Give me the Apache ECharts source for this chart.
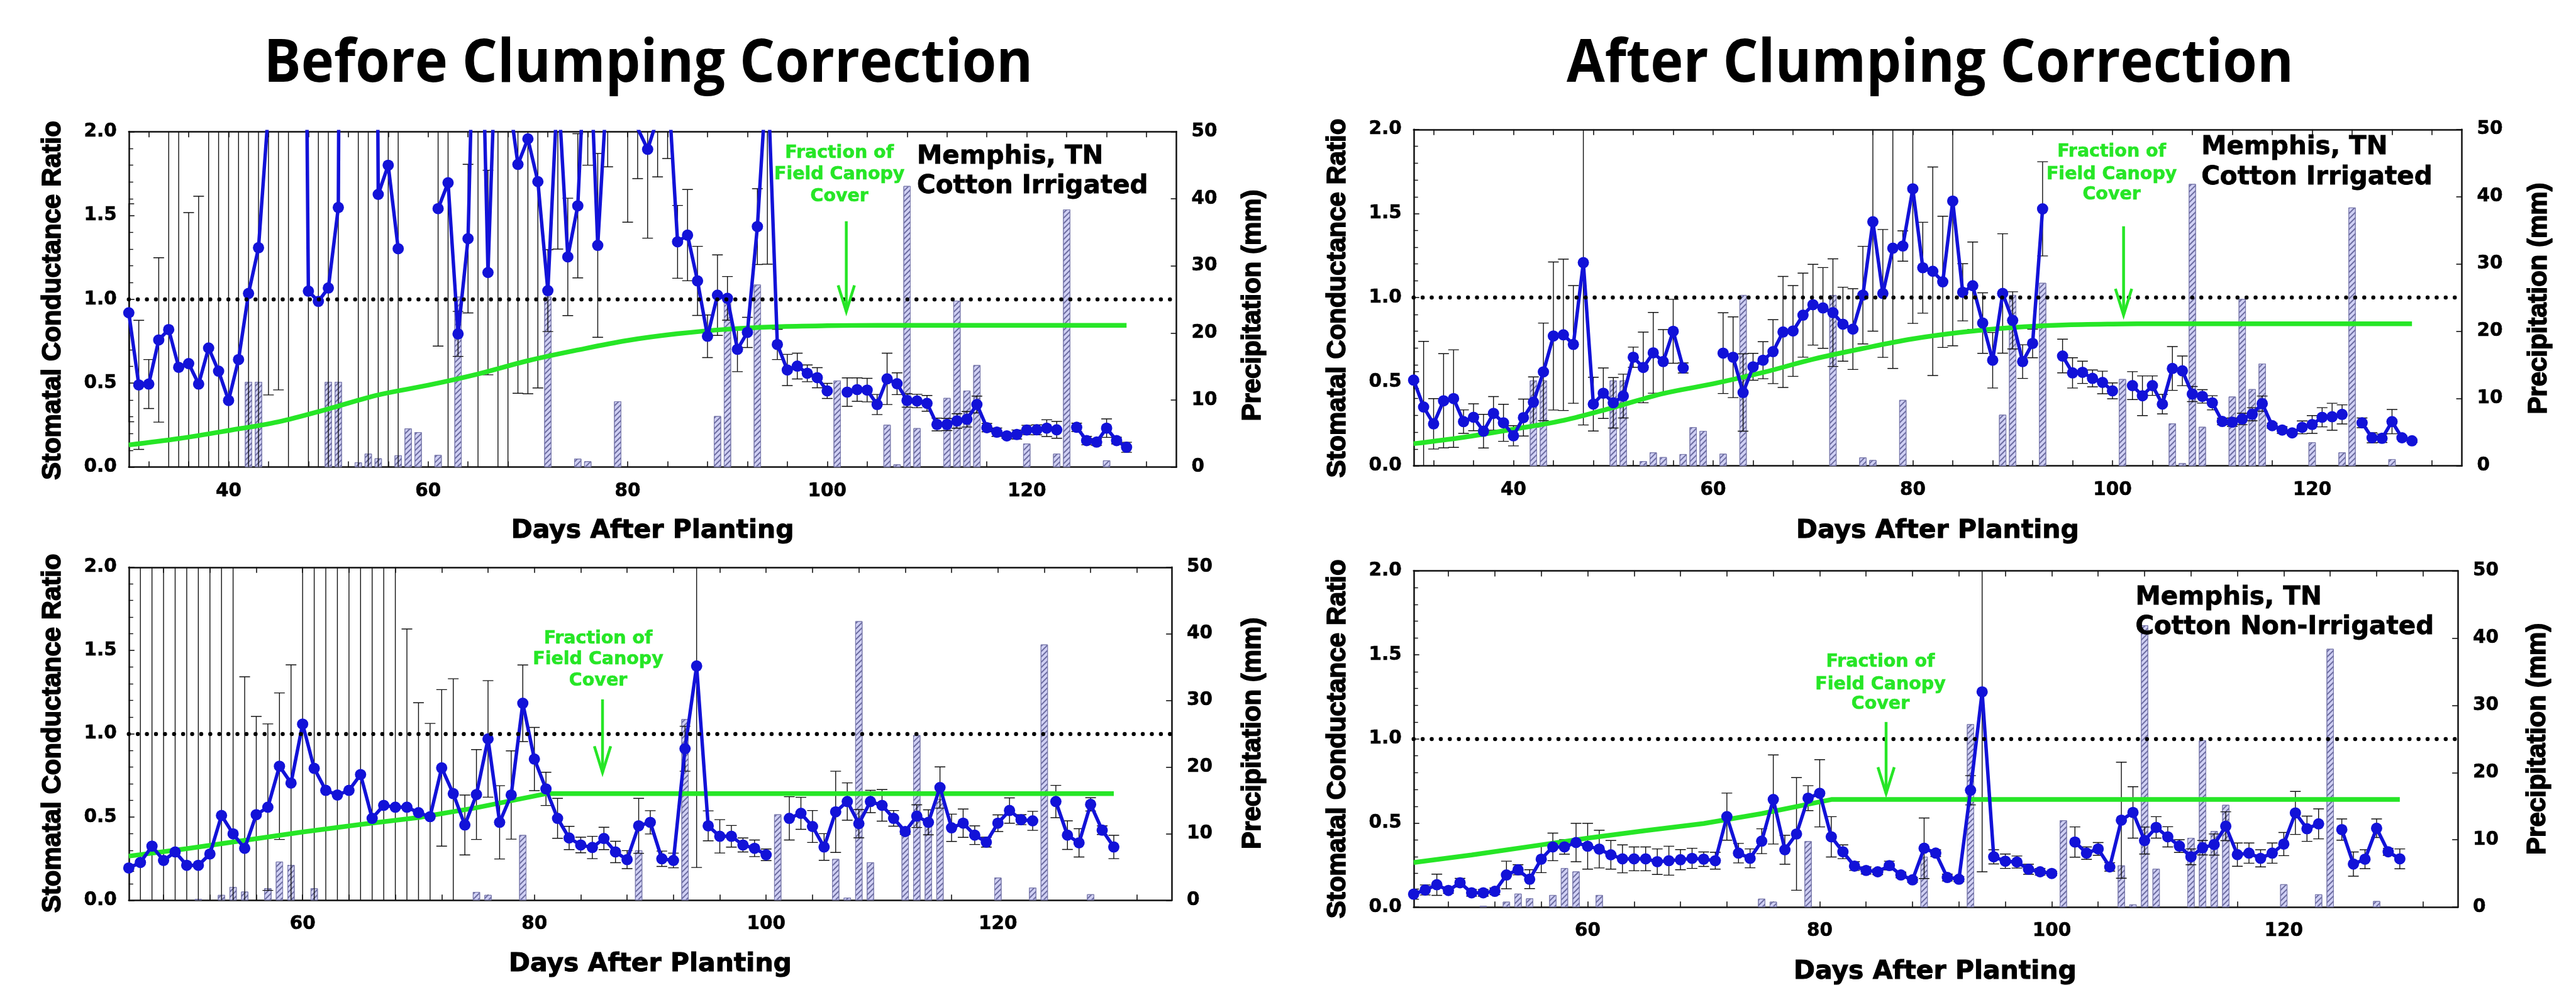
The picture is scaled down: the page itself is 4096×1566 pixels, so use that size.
<!DOCTYPE html>
<html>
<head>
<meta charset="utf-8">
<title>Stomatal conductance ratio - Memphis, TN cotton</title>
<script src="https://cdn.jsdelivr.net/npm/echarts@6.0.0/dist/echarts.min.js"></script>
<style>
  html, body { margin: 0; padding: 0; background: #fff; }
  #chart { width: 4096px; height: 1566px; }
</style>
</head>
<body>
<div id="chart"></div>
<script>
// ---------------- data ----------------
// x axis ticks / labels (days after planting)
const topTickDays = [32, 36, 40, 44, 48, 52, 56, 60, 64, 68, 72, 76, 80, 84, 88, 92, 96, 100, 104, 108, 112, 116, 120, 124, 128, 132];
const topLabelDays = [40, 60, 80, 100, 120];
const botTickDays = [48, 52, 56, 60, 64, 68, 72, 76, 80, 84, 88, 92, 96, 100, 104, 108, 112, 116, 120, 124, 128, 132];
const botLabelDays = [60, 80, 100, 120];
const refRatio = 1.0;

// precipitation + irrigation (mm), irrigated field
const irrRainDays = [42, 43, 50, 51, 53, 54, 55, 57, 58, 59, 61, 63, 72, 75, 76, 79, 89, 90, 93, 101, 106, 107, 108, 109, 112, 113, 114, 115, 120, 123, 124, 128];
const irrRain = [12.7, 12.7, 12.7, 12.7, 0.7, 2.0, 1.3, 1.75, 5.75, 5.2, 1.8, 25.4, 25.4, 1.25, 0.86, 9.8, 7.6, 25.4, 27.2, 12.9, 6.3, 0.4, 41.9, 5.8, 10.3, 24.8, 11.4, 15.2, 3.5, 2.0, 38.4, 1.0];
// precipitation (mm), non-irrigated field
const dryRainDays = [51, 53, 54, 55, 57, 58, 59, 61, 75, 76, 79, 89, 93, 101, 106, 107, 108, 109, 112, 113, 114, 115, 120, 123, 124, 128];
const dryRain = [0.2, 0.8, 2.0, 1.3, 1.8, 5.8, 5.3, 1.8, 1.25, 0.8, 9.8, 7.5, 27.2, 12.9, 6.2, 0.4, 41.9, 5.7, 10.3, 24.8, 11.3, 15.2, 3.4, 1.9, 38.4, 0.9];

// fraction of field canopy cover
const irrCoverDays = [30, 35, 40, 45, 50, 55, 60, 65, 70, 75, 80, 85, 90, 95, 100, 105, 110, 115, 120, 125, 130];
const irrCover = [0.132, 0.17, 0.218, 0.27, 0.347, 0.43, 0.488, 0.555, 0.634, 0.698, 0.755, 0.795, 0.822, 0.837, 0.843, 0.845, 0.845, 0.845, 0.845, 0.845, 0.845];
const dryCoverDays = [45, 50, 55, 60, 65, 70, 75, 81, 130];
const dryCover = [0.265, 0.31, 0.36, 0.41, 0.455, 0.497, 0.556, 0.64, 0.64];

// stomatal conductance ratio, one value per day (null = no data)
// irrigated, before clumping correction, days 30..130
const tlRatio = [
  0.92, 0.49, 0.495, 0.758, 0.82, 0.595, 0.617, 0.495, 0.71, 0.572,
  0.397, 0.641, 1.035, 1.308, 2.13, 3.0, 3.5, 8, 1.049, 0.988,
  1.068, 1.548, 15, 5, 12, 1.626, 1.80, 1.302, null, null,
  null, 1.541, 1.695, 0.794, 1.362, 3.76, 1.16, 2.89, 2.24, 1.805,
  1.957, 1.702, 1.052, 2.3, 1.253, 1.558, 2.85, 1.322, 2.35, 2.6,
  2.5, 2.02, 1.895, 2.08, 2.34, 1.343, 1.383, 1.11, 0.78, 1.025,
  1.006, 0.702, 0.803, 1.434, 2.4, 0.731, 0.579, 0.602, 0.559, 0.533,
  0.454, null, 0.447, 0.462, 0.459, 0.373, 0.526, 0.497, 0.397, 0.394,
  0.38, 0.254, 0.254, 0.275, 0.285, 0.373, 0.235, 0.208, 0.186, 0.194,
  0.221, 0.222, 0.232, 0.222, null, 0.237, 0.158, 0.149, 0.232, 0.158,
  0.118];
const tlSd = [
  0.65, 0.385, 0.146, 0.49, 3, 3, 0.9, 1.12, 3, 3,
  3, 3, 3, 3, 1.7, 2.54, 4, 0.5, 3, 3,
  3, 3, 1, 6, 13, 3, 3, 3, null, null,
  null, 0.82, 3, 0.134, 0.443, 4, 0.61, 3, 3, 1.365,
  1.52, 1.23, 0.244, 1.0, 0.35, 0.43, 1.05, 0.548, 0.56, 0.3,
  1.04, 0.3, 0.53, 0.35, 0.5, 0.217, 0.272, 0.206, 0.127, 0.24,
  0.13, 0.133, 0.09, 0.226, 1.19, 0.09, 0.093, 0.077, 0.05, 0.06,
  0.045, null, 0.085, 0.07, 0.07, 0.06, 0.153, 0.065, 0.04, 0.04,
  0.047, 0.038, 0.036, 0.043, 0.046, 0.05, 0.025, 0.025, 0.015, 0.027,
  0.028, 0.03, 0.05, 0.05, null, 0.025, 0.025, 0.02, 0.055, 0.02,
  0.03];

// irrigated, after clumping correction, days 30..130
const trRatio = [
  0.51, 0.35, 0.25, 0.387, 0.40, 0.263, 0.289, 0.206, 0.312, 0.256,
  0.179, 0.287, 0.379, 0.559, 0.772, 0.779, 0.722, 1.208, 0.367, 0.432,
  0.375, 0.415, 0.646, 0.585, 0.672, 0.62, 0.8, 0.582, null, null,
  null, 0.67, 0.646, 0.436, 0.589, 0.628, 0.679, 0.796, 0.802, 0.896,
  0.958, 0.939, 0.911, 0.842, 0.813, 1.015, 1.451, 1.025, 1.294, 1.307,
  1.647, 1.178, 1.157, 1.094, 1.574, 1.032, 1.071, 0.849, 0.628, 1.025,
  0.865, 0.62, 0.728, 1.528, null, 0.653, 0.553, 0.556, 0.52, 0.496,
  0.446, null, 0.477, 0.417, 0.477, 0.367, 0.579, 0.565, 0.427, 0.413,
  0.375, 0.264, 0.26, 0.279, 0.307, 0.37, 0.239, 0.213, 0.196, 0.229,
  0.246, 0.289, 0.292, 0.306, null, 0.256, 0.167, 0.164, 0.263, 0.167,
  0.149];
const trSd = [
  0.05, 0.39, 0.15, 0.28, 0.29, 0.07, 0.08, 0.10, 0.10, 0.11,
  0.06, 0.11, 0.15, 0.29, 0.44, 0.45, 0.35, 0.965, 0.16, 0.15,
  0.15, 0.13, 0.06, 0.21, 0.24, 0.19, 0.19, 0.03, null, null,
  null, 0.24, 0.24, 0.23, 0.08, 0.11, 0.19, 0.33, 0.27, 0.25,
  0.24, 0.24, 0.32, 0.22, 0.24, 0.29, 0.65, 0.38, 0.715, 0.09,
  0.8, 0.27, 0.62, 0.39, 0.86, 0.17, 0.26, 0.18, 0.165, 0.355,
  0.17, 0.1, 0.085, 0.28, null, 0.10, 0.09, 0.066, 0.05, 0.067,
  0.047, null, 0.083, 0.118, 0.058, 0.058, 0.13, 0.088, 0.045, 0.04,
  0.042, 0.02, 0.025, 0.034, 0.039, 0.045, 0.015, 0.02, 0.011, 0.038,
  0.053, 0.057, 0.08, 0.057, null, 0.029, 0.03, 0.025, 0.072, 0.01,
  0.01];

// non-irrigated, before clumping correction, days 45..130
const blRatio = [
  0.194, 0.227, 0.325, 0.239, 0.29,
  0.21, 0.21, 0.278, 0.509, 0.399, 0.312, 0.514, 0.559, 0.805, 0.704,
  1.058, 0.792, 0.66, 0.632, 0.66, 0.755, 0.492, 0.57, 0.559, 0.559,
  0.526, 0.502, 0.795, 0.64, 0.452, 0.635, 0.969, 0.468, 0.632, 1.183,
  0.848, 0.669, 0.492, 0.374, 0.332, 0.317, 0.371, 0.29, 0.244, 0.447,
  0.468, 0.249, 0.239, 0.91, 1.407, 0.447, 0.384, 0.384, 0.332, 0.312,
  0.273, null, 0.492, 0.522, 0.443, 0.32, 0.531, 0.593, 0.46, 0.593,
  0.57, 0.492, 0.413, 0.505, 0.468, 0.677, 0.435, 0.463, 0.391, 0.349,
  0.463, 0.539, 0.484, 0.477, null, 0.593, 0.391, 0.345, 0.576, 0.421,
  0.32];
const blSd = [
  0.02, 3, 3, 3, 3,
  3, 3, 3, 3, 3, 1.03, 0.59, 0.5, 0.44, 0.71,
  3, 3, 3, 3, 3, 3, 3, 3, 3, 1.07,
  0.66, 0.56, 0.47, 0.69, 0.18, 0.27, 0.35, 0.22, 0.265, 0.23,
  0.19, 0.1, 0.12, 0.07, 0.047, 0.067, 0.067, 0.064, 0.054, 0.165,
  0.07, 0.046, 0.044, 0.135, 1.21, 0.09, 0.1, 0.065, 0.042, 0.05,
  0.035, null, 0.13, 0.096, 0.096, 0.08, 0.244, 0.112, 0.085, 0.067,
  0.095, 0.047, 0.017, 0.068, 0.075, 0.124, 0.082, 0.085, 0.056, 0.03,
  0.05, 0.076, 0.03, 0.057, null, 0.097, 0.086, 0.085, 0.04, 0.026,
  0.07];

// non-irrigated, after clumping correction, days 45..130
const brRatio = [
  0.077, 0.102, 0.133, 0.099, 0.145,
  0.085, 0.085, 0.094, 0.191, 0.222, 0.166, 0.285, 0.358, 0.358, 0.384,
  0.362, 0.345, 0.311, 0.287, 0.287, 0.287, 0.27, 0.276, 0.282, 0.29,
  0.285, 0.276, 0.538, 0.321, 0.29, 0.392, 0.64, 0.341, 0.435, 0.648,
  0.677, 0.418, 0.329, 0.244, 0.218, 0.21, 0.247, 0.191, 0.162, 0.35,
  0.321, 0.176, 0.166, 0.695, 1.28, 0.299, 0.273, 0.268, 0.225, 0.21,
  0.2, null, 0.387, 0.321, 0.346, 0.239, 0.517, 0.563, 0.396, 0.474,
  0.418, 0.363, 0.299, 0.353, 0.372, 0.481, 0.312, 0.321, 0.29, 0.321,
  0.375, 0.56, 0.466, 0.495, null, 0.461, 0.256, 0.285, 0.469, 0.329,
  0.287];
const brSd = [
  0.03, 0.03, 0.063, 0.017, 0.026,
  0.02, 0.02, 0.02, 0.082, 0.03, 0.056, 0.08, 0.082, 0.043, 0.114,
  0.136, 0.112, 0.085, 0.083, 0.071, 0.071, 0.076, 0.086, 0.06, 0.06,
  0.043, 0.05, 0.14, 0.058, 0.056, 0.074, 0.265, 0.086, 0.335, 0.074,
  0.2, 0.12, 0.041, 0.026, 0.021, 0.017, 0.026, 0.017, 0.015, 0.18,
  0.02, 0.02, 0.015, 0.087, 1.07, 0.042, 0.043, 0.036, 0.03, 0.02,
  0.013, null, 0.09, 0.037, 0.038, 0.025, 0.345, 0.153, 0.08, 0.064,
  0.06, 0.038, 0.047, 0.043, 0.063, 0.086, 0.069, 0.06, 0.051, 0.06,
  0.069, 0.128, 0.075, 0.089, null, 0.063, 0.072, 0.056, 0.055, 0.021,
  0.059];

// ---------------- layout / style ----------------
const S = 0.999;              // reference -> window scale
const sc = v => v * S;
const FONT = 'DejaVu Sans';
const TITLE_FONT = 'Open Sans';
const YNAME_FONT = 'Liberation Sans';
const BLUE = '#1212d8';
const GREEN = '#26e626';
const INK = '#111';
const X_MAX = 135;

// box = [left, top, width, height] in reference pixels
const panels = [
  { box: [205, 209.5, 1667.5, 533.8], first: 30, xMin: 30, ticks: topTickDays, labels: topLabelDays,
    ratio: tlRatio, sd: tlSd, rainDays: irrRainDays, rain: irrRain, coverDays: irrCoverDays, cover: irrCover, smooth: true },
  { box: [2250, 206, 1668.5, 535.4], first: 30, xMin: 30, ticks: topTickDays, labels: topLabelDays,
    ratio: trRatio, sd: trSd, rainDays: irrRainDays, rain: irrRain, coverDays: irrCoverDays, cover: irrCover, smooth: true },
  { box: [205, 902.7, 1660, 530], first: 45, xMin: 45, ticks: botTickDays, labels: botLabelDays,
    ratio: blRatio, sd: blSd, rainDays: dryRainDays, rain: dryRain, coverDays: dryCoverDays, cover: dryCover, smooth: false },
  { box: [2250, 908.4, 1662, 535.2], first: 45, xMin: 45, ticks: botTickDays, labels: botLabelDays,
    ratio: brRatio, sd: brSd, rainDays: dryRainDays, rain: dryRain, coverDays: dryCoverDays, cover: dryCover, smooth: false }
];

const labelStyle = { color: '#000', fontFamily: FONT, fontWeight: 'bold', fontSize: sc(29.5), textBorderColor: '#000', textBorderWidth: 0.6 };
const lineStyleInk = { color: INK, width: 2.5 };

const grid = [], xAxis = [], yAxis = [], series = [];

// error bars (mean +- sd), clipped to the 0..2 ratio axis
function renderErrorBar(params, api) {
  const x = api.value(0), lo = api.value(1), hi = api.value(2);
  const a = Math.max(lo, 0), b = Math.min(hi, 2);
  if (a >= b) return;
  const p1 = api.coord([x, a]), p2 = api.coord([x, b]);
  const w = sc(8.5);
  const st = { stroke: INK, lineWidth: 1.4 };
  const children = [{ type: 'line', shape: { x1: p1[0], y1: p1[1], x2: p2[0], y2: p2[1] }, style: st }];
  if (lo >= 0) children.push({ type: 'line', shape: { x1: p1[0] - w, y1: p1[1], x2: p1[0] + w, y2: p1[1] }, style: st });
  if (hi <= 2) children.push({ type: 'line', shape: { x1: p2[0] - w, y1: p2[1], x2: p2[0] + w, y2: p2[1] }, style: st });
  return { type: 'group', children };
}

panels.forEach((p, i) => {
  const [l, t, w, h] = p.box;
  grid.push({ left: sc(l), top: sc(t), width: sc(w), height: sc(h), containLabel: false, outerBoundsMode: 'none' });

  const xBase = {
    type: 'value', gridIndex: i, min: p.xMin, max: X_MAX,
    splitLine: { show: false },
    axisLine: { show: true, onZero: false, lineStyle: lineStyleInk },
    axisTick: { show: true, inside: true, length: sc(9), customValues: p.ticks, lineStyle: { color: INK, width: 1.6 } }
  };
  xAxis.push(Object.assign({}, xBase, {
    position: 'bottom',
    axisLabel: Object.assign({ show: true, margin: sc(24), customValues: p.labels }, labelStyle)
  }));
  xAxis.push(Object.assign({}, xBase, { position: 'top', axisLabel: { show: false } }));

  yAxis.push({
    type: 'value', gridIndex: i, position: 'left', min: 0, max: 2, interval: 0.5,
    splitLine: { show: false },
    axisLine: { show: true, lineStyle: lineStyleInk },
    axisTick: { show: true, inside: true, length: sc(9), lineStyle: { color: INK, width: 1.6 } },
    minorTick: { show: true, splitNumber: 5, length: sc(7), lineStyle: { color: INK, width: 1.4 } },
    axisLabel: Object.assign({ margin: sc(19), formatter: v => v.toFixed(1) }, labelStyle)
  });
  yAxis.push({
    type: 'value', gridIndex: i, position: 'right', min: 0, max: 50, interval: 10,
    splitLine: { show: false },
    axisLine: { show: true, lineStyle: lineStyleInk },
    axisTick: { show: true, inside: true, length: sc(9), lineStyle: { color: INK, width: 1.6 } },
    axisLabel: Object.assign({ margin: sc(24) }, labelStyle)
  });

  const xi = 2 * i, yl = 2 * i, yr = 2 * i + 1;

  series.push({
    type: 'bar', xAxisIndex: xi, yAxisIndex: yr, z: 1, barWidth: sc(11.5),
    data: p.rainDays.map((d, k) => [d, p.rain[k]]),
    itemStyle: {
      color: '#d0d0f4', borderColor: '#7a7aac', borderWidth: 1,
      decal: { symbol: 'rect', symbolSize: 1, color: '#6c6ca0', dashArrayX: [1, 0], dashArrayY: [1.6, 3.8], rotation: -Math.PI / 4 }
    },
    silent: true
  });

  const errData = [];
  p.ratio.forEach((v, k) => {
    if (v == null || p.sd[k] == null) return;
    errData.push([p.first + k, v - p.sd[k], v + p.sd[k]]);
  });
  series.push({
    type: 'custom', xAxisIndex: xi, yAxisIndex: yl, z: 2, clip: true,
    renderItem: renderErrorBar, data: errData, silent: true
  });

  series.push({
    type: 'line', xAxisIndex: xi, yAxisIndex: yl, z: 3,
    data: p.coverDays.map((d, k) => [d, p.cover[k]]),
    smooth: p.smooth ? 0.35 : false,
    symbol: 'none', lineStyle: { color: GREEN, width: sc(7.5) },
    markLine: {
      silent: true, symbol: ['none', 'none'], label: { show: false },
      lineStyle: { color: '#000', width: sc(6.5), type: [0.01, sc(14.4)], cap: 'round' },
      data: [{ yAxis: refRatio }]
    }
  });

  series.push({
    type: 'line', xAxisIndex: xi, yAxisIndex: yl, z: 4, clip: true,
    data: p.ratio.map((v, k) => [p.first + k, v]),
    connectNulls: false,
    symbol: 'circle', symbolSize: sc(18), showAllSymbol: true,
    lineStyle: { color: BLUE, width: sc(5.5) },
    itemStyle: { color: BLUE }
  });
});

// ---------------- texts and arrows ----------------
function txt(x, y, text, size, o) {
  o = o || {};
  const rot = o.rot || 0;
  const fill = o.color || '#000';
  // move from cap-centre to the canvas "middle" line
  const dx = rot ? 0.05 * size : 0, dy = rot ? 0 : 0.07 * size;
  return {
    type: 'text', x: sc(x + dx), y: sc(y + dy), rotation: rot, scaleX: o.sx || 1, z: 100, silent: true,
    style: {
      text, fill, fontSize: sc(size), fontWeight: 'bold',
      fontFamily: o.family || FONT, align: o.align || 'center', verticalAlign: 'middle',
      stroke: o.heavy ? fill : null, lineWidth: o.heavy || 0
    }
  };
}
function arrow(x, y1, y2) {
  const st = { stroke: GREEN, lineWidth: sc(4.5), fill: 'none' };
  return [
    { type: 'line', z: 100, silent: true, shape: { x1: sc(x), y1: sc(y1), x2: sc(x), y2: sc(y2) }, style: st },
    { type: 'polyline', z: 100, silent: true,
      shape: { points: [[sc(x - 13), sc(y2 - 42)], [sc(x), sc(y2)], [sc(x + 13), sc(y2 - 42)]] }, style: st }
  ];
}
const yName = { rot: Math.PI / 2, family: YNAME_FONT, heavy: 1.6 };
const canopyText = ['Fraction of', 'Field Canopy', 'Cover'];
const graphic = [
  txt(1032, 96, 'Before Clumping Correction', 96, { family: TITLE_FONT, sx: 0.92 }),
  txt(3072, 96, 'After Clumping Correction', 96, { family: TITLE_FONT, sx: 0.92 }),

  txt(82, 478, 'Stomatal Conductance Ratio', 42, yName),
  txt(1992, 486, 'Precipitation (mm)', 42, yName),
  txt(2127, 474.6, 'Stomatal Conductance Ratio', 42, yName),
  txt(4039, 475, 'Precipitation (mm)', 42, yName),
  txt(82, 1167, 'Stomatal Conductance Ratio', 42, yName),
  txt(1992.6, 1167, 'Precipitation (mm)', 42, yName),
  txt(2127, 1176, 'Stomatal Conductance Ratio', 42, yName),
  txt(4037, 1176, 'Precipitation (mm)', 42, yName),

  txt(1038.7, 842, 'Days After Planting', 41, { heavy: 1 }),
  txt(3084, 842, 'Days After Planting', 41, { heavy: 1 }),
  txt(1035, 1532, 'Days After Planting', 41, { heavy: 1 }),
  txt(3080, 1544, 'Days After Planting', 41, { heavy: 1 }),

  txt(1459.5, 247.3, 'Memphis, TN', 40.5, { align: 'left', heavy: 0.8 }),
  txt(1459.5, 294, 'Cotton Irrigated', 40.5, { align: 'left', heavy: 0.8 }),
  txt(3503.7, 231.5, 'Memphis, TN', 40.5, { align: 'left', heavy: 0.8 }),
  txt(3503.7, 279.5, 'Cotton Irrigated', 40.5, { align: 'left', heavy: 0.8 }),
  txt(3398.8, 948.5, 'Memphis, TN', 40.5, { align: 'left', heavy: 0.8 }),
  txt(3398.8, 996, 'Cotton Non-Irrigated', 40.5, { align: 'left', heavy: 0.8 })
];
[[1336, [241.8, 275.5, 310.7]], [3361, [239.4, 275.5, 307.8]], [952, [1014.5, 1048, 1081.5]], [2993, [1052, 1087.5, 1119]]]
  .forEach(([x, ys]) => ys.forEach((y, k) => graphic.push(txt(x, y, canopyText[k], 28.5, { color: GREEN, heavy: 0.6 }))));
graphic.push(...arrow(1347, 352, 496), ...arrow(3380, 360, 501.5), ...arrow(959, 1113, 1229.5), ...arrow(3002, 1149, 1263));

const chart = echarts.init(document.getElementById('chart'), null, { renderer: 'canvas' });
chart.setOption({
  animation: false,
  backgroundColor: '#fff',
  grid, xAxis, yAxis, series, graphic
});
</script>
</body>
</html>
